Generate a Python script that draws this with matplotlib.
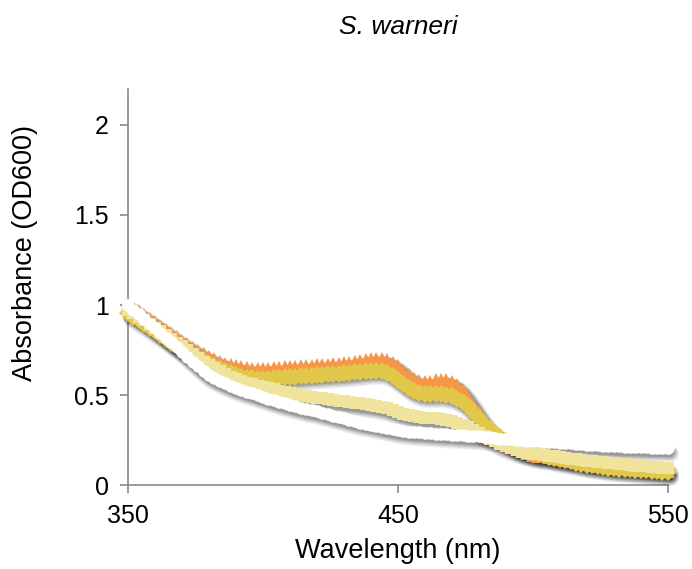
import numpy as np
import matplotlib.pyplot as plt
from matplotlib.transforms import offset_copy

plt.rcParams['font.family'] = ['Liberation Sans', 'DejaVu Sans']

# wavelength (nm), every 2 nm
wavelength = np.arange(350, 551, 2)

orange = [1.005, 0.985, 0.965, 0.945, 0.925, 0.905, 0.884, 0.863, 0.842, 0.821,
          0.800, 0.781, 0.763, 0.745, 0.728, 0.713, 0.699, 0.686, 0.675, 0.666,
          0.659, 0.654, 0.650, 0.647, 0.645, 0.645, 0.646, 0.648, 0.650, 0.653,
          0.655, 0.657, 0.659, 0.661, 0.663, 0.665, 0.667, 0.669, 0.671, 0.673,
          0.676, 0.680, 0.685, 0.690, 0.695, 0.699, 0.701, 0.701, 0.695, 0.680,
          0.660, 0.635, 0.610, 0.590, 0.578, 0.572, 0.575, 0.582, 0.586, 0.582,
          0.572, 0.555, 0.528, 0.490, 0.447, 0.403, 0.360, 0.322, 0.290, 0.262,
          0.238, 0.218, 0.200, 0.187, 0.176, 0.167, 0.160, 0.160, 0.155, 0.150,
          0.145, 0.140, 0.134, 0.128, 0.122, 0.116, 0.112, 0.108, 0.104, 0.100,
          0.097, 0.094, 0.092, 0.090, 0.088, 0.086, 0.084, 0.082, 0.080, 0.078,
          0.076]

gold = [0.955, 0.935, 0.915, 0.895, 0.874, 0.853, 0.832, 0.811, 0.790, 0.770,
        0.751, 0.733, 0.716, 0.700, 0.687, 0.675, 0.660, 0.645, 0.632, 0.620,
        0.610, 0.602, 0.596, 0.592, 0.590, 0.590, 0.591, 0.593, 0.595, 0.598,
        0.600, 0.602, 0.604, 0.606, 0.608, 0.610, 0.612, 0.614, 0.616, 0.618,
        0.620, 0.623, 0.626, 0.629, 0.632, 0.635, 0.636, 0.634, 0.625, 0.608,
        0.585, 0.562, 0.540, 0.522, 0.510, 0.505, 0.504, 0.505, 0.505, 0.501,
        0.493, 0.480, 0.462, 0.438, 0.405, 0.370, 0.340, 0.312, 0.288, 0.265,
        0.245, 0.228, 0.213, 0.200, 0.189, 0.180, 0.172, 0.164, 0.157, 0.150,
        0.143, 0.137, 0.131, 0.125, 0.119, 0.113, 0.109, 0.105, 0.101, 0.097,
        0.094, 0.091, 0.089, 0.087, 0.085, 0.083, 0.081, 0.079, 0.077, 0.075,
        0.073]

pale = [0.975, 0.955, 0.935, 0.915, 0.895, 0.875, 0.854, 0.833, 0.812, 0.791,
        0.770, 0.749, 0.728, 0.707, 0.686, 0.665, 0.648, 0.632, 0.616, 0.602,
        0.590, 0.579, 0.569, 0.560, 0.552, 0.545, 0.538, 0.531, 0.524, 0.517,
        0.510, 0.505, 0.500, 0.495, 0.490, 0.485, 0.481, 0.477, 0.473, 0.469,
        0.465, 0.461, 0.457, 0.453, 0.449, 0.445, 0.440, 0.434, 0.426, 0.416,
        0.405, 0.396, 0.389, 0.383, 0.378, 0.375, 0.373, 0.371, 0.369, 0.362,
        0.355, 0.346, 0.336, 0.323, 0.307, 0.290, 0.274, 0.258, 0.243, 0.228,
        0.215, 0.204, 0.194, 0.186, 0.180, 0.175, 0.171, 0.167, 0.163, 0.159,
        0.155, 0.151, 0.147, 0.143, 0.139, 0.135, 0.132, 0.129, 0.126, 0.123,
        0.120, 0.117, 0.114, 0.111, 0.108, 0.105, 0.103, 0.101, 0.099, 0.097,
        0.095]

white = [1.000, 0.974, 0.948, 0.922, 0.896, 0.870, 0.844, 0.818, 0.792, 0.766,
         0.740, 0.713, 0.686, 0.660, 0.634, 0.610, 0.593, 0.578, 0.564, 0.551,
         0.539, 0.529, 0.519, 0.510, 0.500, 0.490, 0.480, 0.470, 0.461, 0.453,
         0.445, 0.437, 0.429, 0.422, 0.416, 0.410, 0.402, 0.394, 0.386, 0.378,
         0.370, 0.362, 0.354, 0.347, 0.341, 0.335, 0.329, 0.323, 0.317, 0.311,
         0.305, 0.301, 0.297, 0.294, 0.292, 0.290, 0.288, 0.286, 0.284, 0.282,
         0.280, 0.278, 0.276, 0.274, 0.272, 0.270, 0.267, 0.264, 0.261, 0.258,
         0.255, 0.253, 0.251, 0.249, 0.247, 0.245, 0.243, 0.241, 0.239, 0.237,
         0.235, 0.233, 0.231, 0.229, 0.227, 0.225, 0.223, 0.221, 0.219, 0.217,
         0.215, 0.214, 0.213, 0.212, 0.211, 0.210, 0.209, 0.208, 0.207, 0.206,
         0.205]

series = [
    (orange, '#F79646', '^', 9.5),
    (gold, '#E2C84A', 'D', 9),
    (pale, '#F0E49C', 's', 9),
    (white, '#FFFFFF', 'o', 9),
]

fig = plt.figure(figsize=(6.92, 5.69), dpi=100)
ax = fig.add_axes([0.185, 0.1476, 0.780, 0.696])

# blurred drop shadow: stacked offset lines, widest and faintest first
shadow_layers = [(2.2, -4.2, 12.0, 0.06), (1.9, -3.8, 11.0, 0.07),
                 (1.6, -3.4, 10.0, 0.09), (1.3, -3.0, 9.0, 0.11),
                 (1.0, -2.6, 8.0, 0.14)]

for vals, color, marker, ms in series:
    for dx, dy, lw, a in shadow_layers:
        tr = offset_copy(ax.transData, fig=fig, x=dx, y=dy, units='points')
        ax.plot(wavelength, vals, color='k', lw=lw, alpha=a, transform=tr,
                solid_capstyle='round', solid_joinstyle='round', zorder=2,
                clip_on=False)
    ax.plot(wavelength, vals, linestyle='none', marker=marker, markersize=ms,
            markerfacecolor=color, markeredgewidth=0, zorder=3, clip_on=False)

ax.set_xlim(350, 550)
ax.set_ylim(0, 2.2)
ax.set_xticks([350, 450, 550])
ax.set_yticks([0, 0.5, 1, 1.5, 2])
ax.set_yticklabels(['0', '0.5', '1', '1.5', '2'])

for side in ['top', 'right']:
    ax.spines[side].set_visible(False)
for side in ['left', 'bottom']:
    ax.spines[side].set_color('#898989')
    ax.spines[side].set_linewidth(1.2)
    ax.spines[side].set_zorder(1)
ax.tick_params(direction='out', length=6, width=1.2, color='#898989',
               labelsize=18, pad=8)

ax.set_xlabel('Wavelength (nm)', fontsize=19.5)
ax.set_ylabel('Absorbance (OD600)', fontsize=19.5)
ax.xaxis.set_label_coords(0.5, -0.135)
ax.yaxis.set_label_coords(-0.166, 0.586)

fig.text(0.5755, 0.952, 'S. warneri', fontsize=19, style='italic',
         ha='center', va='center')

fig.savefig('out.png', dpi=100)
